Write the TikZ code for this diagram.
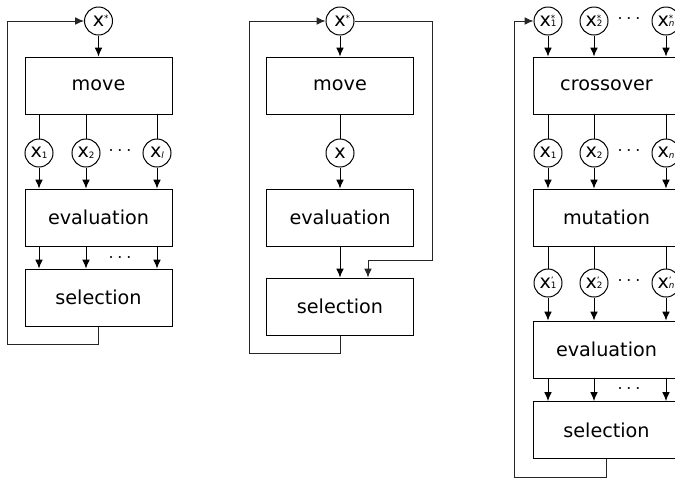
\documentclass[tikz,border=0pt]{standalone}
\usepackage{fontspec}
\setmainfont{DejaVu Sans}
\usetikzlibrary{arrows.meta}
\newcommand{\tinyfont}{\fontsize{4.4}{5}\selectfont}
\newcommand{\xv}[2]{x\rlap{\raisebox{2.2pt}{\tinyfont #1}}\raisebox{-0.4pt}{\tinyfont #2}}

\begin{document}
\begin{tikzpicture}[x=0.5pt,y=-0.5pt,line width=0.5pt,
    every node/.style={font=\fontsize{9.6}{11}\selectfont},
    box/.style={draw,minimum width=73.5pt,minimum height=28.5pt,inner sep=0},
    var/.style={draw,circle,minimum size=14pt,inner sep=0},
    dots/.style={inner sep=0},
    arr/.style={-{Latex[length=4.4pt,width=3.8pt]}},
    loopline/.style={arr,draw=black!85}]
  \useasboundingbox (0,0) rectangle (675,478);
  \clip (0,0) rectangle (675,478);

  % left: x* -> move -> x_1..x_l
  \node[var] (s1) at (98.5,21) {\xv{*}{}};
  \node[box] (move1) at (98.5,85.5) {move};
  \node[var] (a1) at (39,153) {\xv{}{1}};
  \node[var] (b1) at (86,153) {\xv{}{2}};
  \node[var] (c1) at (157,153) {\xv{}{\textit{l}}};
  \node[dots] (d1) at (120,151) {$\cdots$};
  \node[box] (eval1) at (98.5,217.5) {evaluation};
  \node[box] (sel1) at (98.5,297.5) {selection};
  \node[dots] (e1) at (120,258) {$\cdots$};
  \coordinate (loop1) at (7,344);
  \draw[arr] (s1) -- (move1);
  \foreach \v in {a1,b1,c1} {
    \draw (move1.south -| \v) -- (\v);
    \draw[arr] (\v) -- (\v |- eval1.north);
    \draw[arr] (eval1.south -| \v) -- (sel1.north -| \v);
  }
  \draw[loopline] (sel1.south) |- (loop1) |- (s1);

  % middle: single x
  \node[var] (s2) at (340,21) {\xv{*}{}};
  \node[box] (move2) at (340,85.5) {move};
  \node[var] (a2) at (340,153) {x};
  \node[box] (eval2) at (340,217.5) {evaluation};
  \node[box] (sel2) at (340,306.5) {selection};
  \coordinate (loop2) at (249,353);
  \coordinate (right2) at (432,260);
  \coordinate (in2) at (368,260);
  \draw[arr] (s2) -- (move2);
  \draw (move2) -- (a2);
  \draw[arr] (a2) -- (eval2);
  \draw[arr] (eval2) -- (sel2);
  \draw[loopline] (s2) -| (right2) -- (in2) -- (in2 |- sel2.north);
  \draw[loopline] (sel2.south) |- (loop2) |- (s2);

  % right: crossover and mutation
  \node[var] (s31) at (548,21) {\xv{*}{1}};
  \node[var] (s32) at (594,21) {\xv{*}{2}};
  \node[var] (s3n) at (666,21) {\xv{*}{\textit{n}}};
  \node[dots] (d31) at (629,19) {$\cdots$};
  \node[box] (cross3) at (606.5,85.5) {crossover};
  \node[var] (a31) at (548,153) {\xv{}{1}};
  \node[var] (a32) at (594,153) {\xv{}{2}};
  \node[var] (a3n) at (666,153) {\xv{}{\textit{n}}};
  \node[dots] (d32) at (629,151) {$\cdots$};
  \node[box] (mut3) at (606.5,217.5) {mutation};
  \node[var] (m31) at (548,283) {\xv{'}{1}};
  \node[var] (m32) at (594,283) {\xv{'}{2}};
  \node[var] (m3n) at (666,283) {\xv{'}{\textit{n}}};
  \node[dots] (d33) at (629,281) {$\cdots$};
  \node[box] (eval3) at (606.5,349.5) {evaluation};
  \node[box] (sel3) at (606.5,430) {selection};
  \node[dots] (d34) at (629,389) {$\cdots$};
  \coordinate (loop3) at (514,477);
  \foreach \s/\a/\m in {s31/a31/m31,s32/a32/m32,s3n/a3n/m3n} {
    \draw[arr] (\s) -- (\s |- cross3.north);
    \draw (cross3.south -| \a) -- (\a);
    \draw[arr] (\a) -- (\a |- mut3.north);
    \draw (mut3.south -| \m) -- (\m);
    \draw[arr] (\m) -- (\m |- eval3.north);
    \draw[arr] (eval3.south -| \m) -- (sel3.north -| \m);
  }
  \draw[loopline] (sel3.south) |- (loop3) |- (s31);
\end{tikzpicture}
\end{document}
